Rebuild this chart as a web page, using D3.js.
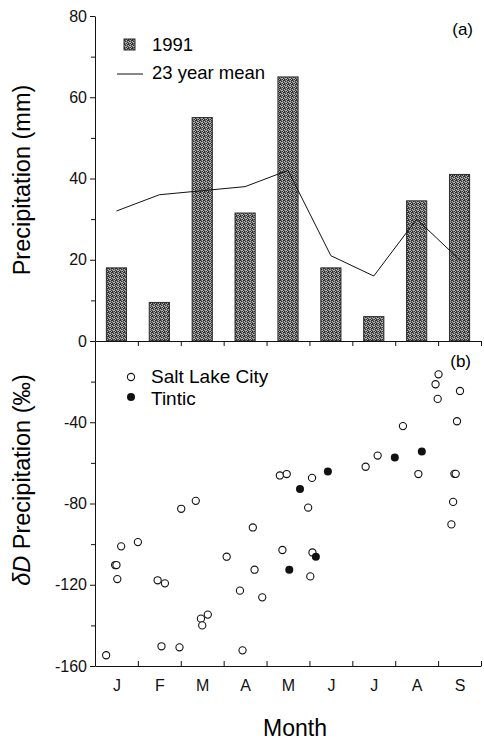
<!DOCTYPE html>
<html>
<head>
<meta charset="utf-8">
<script src="https://cdn.jsdelivr.net/npm/d3@7"></script>
<style>
  body { margin: 0; background: #fff; }
  svg { display: block; font-family: "Liberation Sans", Arial, sans-serif; }
  .axis path, .axis line { stroke: #111; stroke-width: 1; }
  .axis text { font-size: 16px; fill: #111; }
</style>
</head>
<body>
<div id="chart"></div>
<script>
// month labels shared by both panels
var months = ['J', 'F', 'M', 'A', 'M', 'J', 'J', 'A', 'S'];

// (a) monthly precipitation, mm
var precip1991 = [18, 9.5, 55, 31.5, 65, 18, 6, 34.5, 41];
var mean23yr = [32, 36, 37, 38, 42, 21, 16, 30, 20];

// (b) deltaD of precipitation; t = month position (0 = start of Jan)
var slcT = [0.26, 0.47, 0.50, 0.52, 0.61, 1.00, 1.46, 1.63, 1.55, 1.97, 2.01, 2.35, 2.47, 2.50,
  2.63, 3.07, 3.38, 3.44, 3.68, 3.72, 3.90, 4.31, 4.47, 4.37, 4.97, 5.06, 5.07, 5.02, 6.31,
  6.59, 7.18, 7.54, 7.94, 8.01, 7.99, 8.51, 8.44, 8.38, 8.41, 8.35, 8.31];
var slcD = [-154.7, -110.3, -110.3, -117.2, -101.1, -99, -117.8, -119.3, -150.3, -150.8, -82.6,
  -78.7, -136.7, -140, -134.7, -106.2, -122.9, -152.3, -91.8, -112.6, -126.2, -66.2, -65.5,
  -102.9, -82, -67.4, -104.1, -115.9, -61.9, -56.4, -41.9, -65.5, -21.3, -16.4, -28.5, -24.6,
  -39.5, -65.4, -65.4, -79.2, -90.3];
var tinticT = [4.78, 5.43, 4.53, 5.15, 6.99, 7.62];
var tinticD = [-72.8, -64.3, -112.6, -106.2, -57.4, -54.4];

var W = 484, H = 743;
var left = 95, right = 481;
var topA = 16, zeroY = 341, bottomB = 666;

// plain hyphen for negatives, like the printed figure
var fmt = function (d) { return String(d); };

var svg = d3.select('#chart').append('svg')
  .attr('width', W).attr('height', H);

// stipple texture for the bars (hand-laid 4x4 cell, no diagonals)
var stipple = ['DMLD', 'LDMM', 'MLLD', 'DMDL'];
var shade = { D: '#2e2e2e', M: '#707070', L: '#b4b4b4' };
var pat = svg.append('defs').append('pattern')
  .attr('id', 'stip').attr('width', 4).attr('height', 4)
  .attr('patternUnits', 'userSpaceOnUse');
stipple.forEach(function (row, r) {
  row.split('').forEach(function (c, k) {
    pat.append('rect').attr('x', k).attr('y', r).attr('width', 1).attr('height', 1)
      .attr('fill', shade[c]);
  });
});

var xMonth = d3.scaleLinear().domain([0, 9]).range([left, right]);
var xBand = d3.scaleBand().domain(d3.range(9)).range([left, right])
  .paddingInner(0.53).paddingOuter(0.265);

// ---------- panel (a) ----------
var yA = d3.scaleLinear().domain([0, 80]).range([zeroY, topA]);

svg.append('g').attr('class', 'axis')
  .attr('transform', 'translate(' + left + ',0)')
  .call(d3.axisLeft(yA).tickValues([0, 20, 40, 60, 80]).tickSize(5).tickSizeOuter(0).tickPadding(3).tickFormat(fmt));
svg.append('g').attr('class', 'axis')
  .attr('transform', 'translate(' + left + ',0)')
  .call(d3.axisLeft(yA).tickValues([10, 30, 50, 70]).tickSize(4).tickFormat('').tickSizeOuter(0))
  .select('.domain').remove();

svg.append('g')
  .selectAll('rect')
  .data(precip1991)
  .join('rect')
  .attr('x', function (d, i) { return xBand(i); })
  .attr('y', function (d) { return yA(d); })
  .attr('width', xBand.bandwidth())
  .attr('height', function (d) { return yA(0) - yA(d); })
  .attr('fill', 'url(#stip)')
  .attr('stroke', '#2a2a2a')
  .attr('stroke-width', 1);

var meanLine = d3.line()
  .x(function (d, i) { return xMonth(i + 0.5); })
  .y(function (d) { return yA(d); });
svg.append('path')
  .datum(mean23yr)
  .attr('d', meanLine)
  .attr('fill', 'none')
  .attr('stroke', '#111')
  .attr('stroke-width', 1);

// legend (a)
svg.append('rect').attr('x', 124).attr('y', 39).attr('width', 11).attr('height', 11)
  .attr('fill', 'url(#stip)').attr('stroke', '#2a2a2a');
svg.append('text').attr('x', 152).attr('y', 51).attr('font-size', 18.5).text('1991');
svg.append('line').attr('x1', 117).attr('x2', 143).attr('y1', 74).attr('y2', 74)
  .attr('stroke', '#111');
svg.append('text').attr('x', 152).attr('y', 79).attr('font-size', 18.5).text('23 year mean');
svg.append('text').attr('x', 473).attr('y', 35).attr('font-size', 17)
  .attr('text-anchor', 'end').text('(a)');

svg.append('text')
  .attr('transform', 'translate(30,180) rotate(-90)')
  .attr('text-anchor', 'middle')
  .attr('font-size', 23.5)
  .text('Precipitation (mm)');

// ---------- panel (b) ----------
var yB = d3.scaleLinear().domain([-160, 0]).range([bottomB, zeroY]);

// shared line between panels, ticks pointing down
svg.append('g').attr('class', 'axis')
  .attr('transform', 'translate(0,' + zeroY + ')')
  .call(d3.axisBottom(xMonth).tickValues(d3.range(1, 10)).tickSize(5).tickFormat('').tickSizeOuter(0));

svg.append('g').attr('class', 'axis')
  .attr('transform', 'translate(' + left + ',0)')
  .call(d3.axisLeft(yB).tickValues([-160, -120, -80, -40]).tickSize(5).tickSizeOuter(0).tickPadding(3).tickFormat(fmt));
svg.append('g').attr('class', 'axis')
  .attr('transform', 'translate(' + left + ',0)')
  .call(d3.axisLeft(yB).tickValues([-140, -100, -60, -20]).tickSize(4).tickFormat('').tickSizeOuter(0))
  .select('.domain').remove();

svg.append('g').attr('class', 'axis')
  .attr('transform', 'translate(0,' + bottomB + ')')
  .call(d3.axisBottom(xMonth).tickValues(d3.range(1, 10)).tickSize(-5).tickFormat('').tickSizeOuter(0));
svg.append('g').attr('class', 'axis')
  .attr('transform', 'translate(0,' + bottomB + ')')
  .call(d3.axisBottom(xMonth).tickValues(d3.range(9).map(function (i) { return i + 0.5; }))
    .tickSize(0).tickPadding(14).tickFormat(function (d, i) { return months[i]; }))
  .select('.domain').remove();

svg.append('g')
  .selectAll('circle')
  .data(d3.zip(slcT, slcD))
  .join('circle')
  .attr('cx', function (d) { return xMonth(d[0]); })
  .attr('cy', function (d) { return yB(d[1]); })
  .attr('r', 3.6)
  .attr('fill', '#fff')
  .attr('stroke', '#111')
  .attr('stroke-width', 1.1);

svg.append('g')
  .selectAll('circle')
  .data(d3.zip(tinticT, tinticD))
  .join('circle')
  .attr('cx', function (d) { return xMonth(d[0]); })
  .attr('cy', function (d) { return yB(d[1]); })
  .attr('r', 4)
  .attr('fill', '#111');

// legend (b)
svg.append('circle').attr('cx', 131).attr('cy', 377).attr('r', 3.6)
  .attr('fill', '#fff').attr('stroke', '#111').attr('stroke-width', 1.1);
svg.append('text').attr('x', 151).attr('y', 383).attr('font-size', 19).text('Salt Lake City');
svg.append('circle').attr('cx', 131).attr('cy', 397).attr('r', 4).attr('fill', '#111');
svg.append('text').attr('x', 151).attr('y', 405).attr('font-size', 19).text('Tintic');
svg.append('text').attr('x', 471).attr('y', 367).attr('font-size', 17)
  .attr('text-anchor', 'end').text('(b)');

var yLabB = svg.append('text')
  .attr('transform', 'translate(30,480) rotate(-90)')
  .attr('text-anchor', 'middle')
  .attr('font-size', 23.5);
yLabB.append('tspan').attr('font-style', 'italic').text('\u03B4D');
yLabB.append('tspan').text(' Precipitation (\u2030)');

svg.append('text')
  .attr('x', 295).attr('y', 736)
  .attr('text-anchor', 'middle')
  .attr('font-size', 23)
  .text('Month');
</script>
</body>
</html>
